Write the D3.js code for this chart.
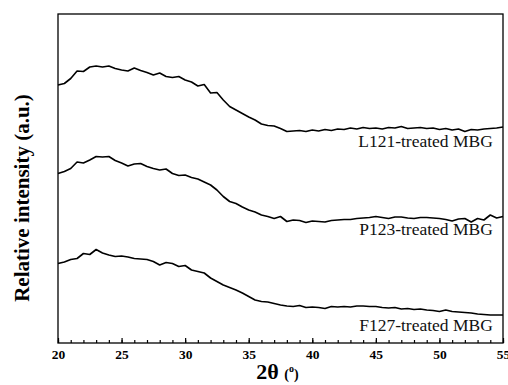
<!DOCTYPE html>
<html>
<head>
<meta charset="utf-8">
<script src="https://cdn.jsdelivr.net/npm/d3@7"></script>
<style>
  html, body { margin: 0; padding: 0; background: #fff; }
  svg { display: block; }
  text { font-family: "Liberation Serif", "Times New Roman", "DejaVu Serif", serif; }
</style>
</head>
<body>
<div id="chart"></div>
<script>
// 2θ sampling grid (degrees)
const ANGLES = d3.range(20, 55.001, 0.5);
const X_TICKS = [20, 25, 30, 35, 40, 45, 50, 55];

// relative intensity (a.u., offset-stacked as in the figure)
const L121 = [258, 259.5, 264.5, 272, 271.5, 276, 277, 276, 277, 274.5, 273, 272, 275, 272.5, 270.5, 268,
  270, 266.5, 265.5, 266.5, 263, 261, 257, 258.5, 250, 250.5, 243, 236.5, 233, 229.5, 226, 223, 219, 217.5,
  217, 214.5, 211.5, 212, 212.5, 211.5, 213, 212, 213.5, 212.5, 214, 213.5, 215, 214, 215.5, 214.5, 215,
  214, 215.5, 215, 216.5, 214.5, 215, 215.5, 214.5, 215, 213.5, 214.5, 213, 214, 211.5, 213.5, 213, 214,
  214.5, 215, 216];
const P123 = [169.5, 171.5, 174.5, 181, 180, 183, 186.5, 186, 186.5, 182.5, 180, 177, 179, 179.5, 176.5,
  174.5, 173, 174, 169.5, 167.5, 168, 165.5, 164, 161, 158, 153, 146.5, 141.5, 139.5, 136, 133, 131, 128,
  126.5, 124.5, 126.5, 121.5, 123, 122.5, 120.5, 122, 121.5, 121, 122.5, 123, 123.5, 123.5, 124.5, 125,
  125.5, 126.5, 125.5, 124.5, 126, 126, 125, 124.5, 125.5, 125.5, 125, 124.5, 123.5, 122, 124, 124.5, 121,
  124.5, 123, 128, 125, 126.5];
const F127 = [79.5, 81, 83.5, 84.5, 89.5, 88.5, 93.5, 90, 88, 86.5, 87, 86, 84.5, 84, 83.5, 81.5, 78, 80.5,
  79.5, 76.5, 77.5, 73, 71.5, 70, 65, 61.5, 58, 55.5, 53, 50, 46.5, 43, 41.5, 41, 39.5, 38, 37, 36.5, 37.5,
  35.5, 36, 35.5, 34.5, 36.5, 36, 36.5, 36, 37, 37, 36.5, 36.5, 35.5, 35, 35.5, 34, 34.5, 33.5, 34, 33,
  32.5, 31.5, 33, 31.5, 31, 30.5, 30, 29, 28.5, 28, 28, 28];

const SERIES = [
  { name: 'L121-treated MBG', values: L121, labelY: 196 },
  { name: 'P123-treated MBG', values: P123, labelY: 108 },
  { name: 'F127-treated MBG', values: F127, labelY: 12.5 }
];

const SERIF = '"Liberation Serif", "Times New Roman", "DejaVu Serif", serif';

const width = 508, height = 385;
const margin = { top: 14, right: 5, bottom: 42, left: 58 };
const W = width - margin.left - margin.right;
const H = height - margin.top - margin.bottom;

const x = d3.scaleLinear().domain([20, 55]).range([0, W]);
const y = d3.scaleLinear().domain([0, 329]).range([H, 0]);

const svg = d3.select('#chart').append('svg')
  .attr('width', width).attr('height', height);

const g = svg.append('g').attr('transform', `translate(${margin.left},${margin.top})`);

// frame
g.append('rect').attr('x', 0).attr('y', 0).attr('width', W).attr('height', H)
  .attr('fill', 'none').attr('stroke', '#000').attr('stroke-width', 1.3);

// bottom axis: minor ticks every degree, inward
const xAxisMinor = d3.axisBottom(x).tickValues(d3.range(20, 55.001, 1))
  .tickSize(-3).tickFormat('');
g.append('g').attr('transform', `translate(0,${H})`).call(xAxisMinor)
  .call(a => a.select('.domain').remove())
  .selectAll('line').attr('stroke', '#000').attr('stroke-width', 1.2);

const xAxis = d3.axisBottom(x).tickValues(X_TICKS).tickSize(-5).tickPadding(6);
const ax = g.append('g').attr('transform', `translate(0,${H})`).call(xAxis)
  .attr('font-family', SERIF);
ax.select('.domain').remove();
ax.selectAll('line').attr('stroke', '#000').attr('stroke-width', 1.2);
ax.selectAll('text').attr('fill', '#000').attr('font-size', '13.5px').attr('font-weight', 'bold')
  .attr('font-family', SERIF);

// curves
const line = d3.line().x((d, i) => x(ANGLES[i])).y(d => y(d));
SERIES.forEach(s => {
  g.append('path').datum(s.values)
    .attr('fill', 'none').attr('stroke', '#000').attr('stroke-width', 1.6)
    .attr('stroke-linejoin', 'round')
    .attr('d', line);
  g.append('text').attr('x', x(54.2)).attr('y', y(s.labelY))
    .attr('text-anchor', 'end').attr('font-size', '17.5px').attr('fill', '#111')
    .attr('font-family', SERIF)
    .text(s.name);
});

// axis titles
const xt = svg.append('text').attr('x', margin.left + W / 2 - 3).attr('y', 379)
  .attr('text-anchor', 'middle').attr('font-weight', 'bold').attr('fill', '#000')
  .attr('font-family', SERIF);
xt.append('tspan').attr('font-size', '22px').text('2θ ');
xt.append('tspan').attr('font-size', '14px').text('(');
xt.append('tspan').attr('font-size', '10px').attr('dy', -7).text('o');
xt.append('tspan').attr('font-size', '14px').attr('dy', 7).text(')');

svg.append('text')
  .attr('transform', `translate(29,${margin.top + 184}) rotate(-90)`)
  .attr('text-anchor', 'middle').attr('font-weight', 'bold').attr('font-size', '21px')
  .attr('fill', '#000').attr('font-family', SERIF)
  .text('Relative intensity (a.u.)');
</script>
</body>
</html>
